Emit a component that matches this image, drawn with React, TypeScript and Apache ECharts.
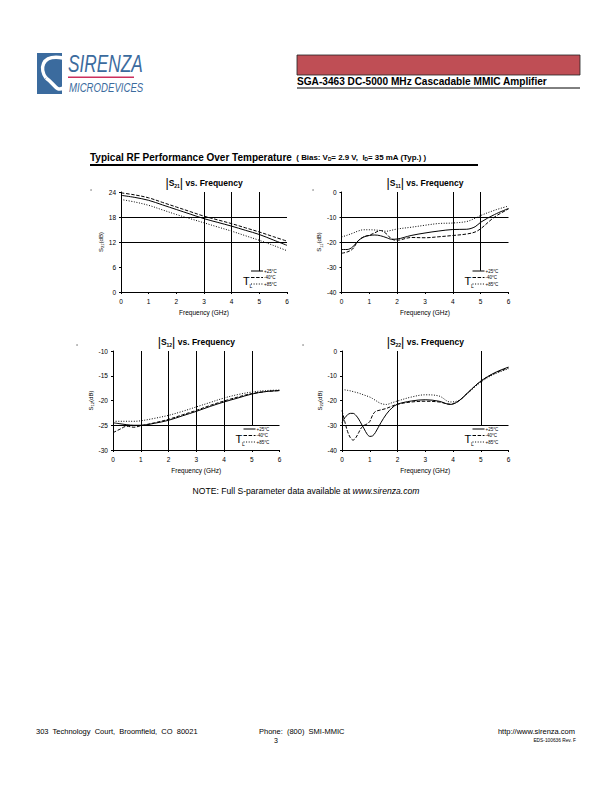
import React, { useEffect, useRef } from "react";
import * as echarts from "echarts";

const FONT = "'Liberation Sans', Arial, Helvetica, sans-serif";

// ---------- data ----------
const s21Freq = [0, 0.5, 1, 1.5, 2, 2.5, 3, 3.5, 4, 4.5, 5, 5.5, 6];
const s21P25 = [23.2, 22.7, 22.0, 20.9, 19.8, 18.7, 17.6, 16.7, 15.8, 14.8, 13.8, 12.5, 11.2];
const s21M40 = [23.8, 23.3, 22.6, 21.5, 20.4, 19.3, 18.2, 17.3, 16.4, 15.4, 14.4, 13.3, 12.2];
const s21P85 = [22.2, 21.6, 20.8, 19.7, 18.6, 17.6, 16.6, 15.6, 14.6, 13.5, 12.4, 11.2, 9.9];

const s11Freq = [0, 0.2, 0.4, 0.6, 0.8, 1, 1.2, 1.4, 1.6, 1.8, 2, 2.5, 3, 3.5, 4, 4.5, 4.8, 5, 5.5, 6];
const s11P25 = [-23, -23, -22, -19.5, -18, -17.4, -17.2, -17.5, -18.2, -18.9, -18.8, -17.4, -16.4, -15.6, -15, -14.9, -13.9, -12.1, -9, -6.6];
const s11M40 = [-24.5, -24, -22.8, -19.5, -17.9, -17.3, -16.3, -15.4, -16.6, -18.8, -19.3, -18.2, -18.3, -17.9, -17.4, -16.8, -16, -14.7, -10, -6.8];
const s11P85 = [-18, -17.3, -16.5, -15.6, -15.1, -15.1, -15.2, -15.4, -15.7, -15.3, -14.8, -14.1, -13.3, -12.6, -12.4, -11.8, -10.5, -9.4, -7.3, -5.6];

const s12Freq = [0, 0.25, 0.5, 0.75, 1, 1.5, 2, 2.5, 3, 3.5, 4, 4.5, 5, 5.5, 6];
const s12P25 = [-24.5, -24.7, -24.9, -25, -25, -24.6, -24, -23.1, -22.2, -21.2, -20.3, -19.5, -18.7, -18.2, -18];
const s12M40 = [-26.5, -25.8, -25.2, -25.4, -25.1, -24.5, -23.8, -22.9, -22, -21, -20.1, -19.3, -18.6, -18.2, -18];
const s12P85 = [-24.2, -24.2, -24.2, -24.2, -24.1, -23.6, -23, -22.2, -21.3, -20.4, -19.5, -18.8, -18.3, -18, -17.9];

const s22Freq = [0, 0.1, 0.2, 0.3, 0.4, 0.5, 0.6, 0.7, 0.8, 0.9, 1, 1.1, 1.2, 1.4, 1.6, 1.8, 2, 2.5, 3, 3.5, 3.9, 4.2, 4.5, 5, 5.5, 6];
const s22P25 = [-29, -27, -25.8, -25.2, -25.2, -26, -27.5, -29.5, -31.5, -33.5, -34.5, -34.3, -33, -29, -25.5, -23, -21.5, -20.2, -19.7, -20.3, -21.6, -20.3, -17.2, -12.2, -8.8, -6.5];
const s22M40 = [-24, -28.5, -32.5, -35, -36, -35, -33, -31, -30, -29.5, -28.5, -26, -24.5, -23.8, -23.2, -22.3, -21.5, -20.6, -20.3, -20.6, -21.5, -20.2, -17.2, -12.2, -9, -6.8];
const s22P85 = [-15.5, -15.7, -15.9, -16.1, -16.4, -16.7, -17, -17.4, -17.8, -18.2, -18.6, -19.2, -19.9, -21.2, -21.6, -20.9, -20.2, -18.6, -17.7, -18.2, -20.6, -20, -17.4, -12.6, -9.3, -7.2];

const legendLabels = ["+25°C", "-40°C", "+85°C"];
const chartTitles = ["21", "11", "12", "22"];
const yRanges = [
  { min: 0, max: 24, interval: 6 },
  { min: -40, max: 0, interval: 10 },
  { min: -30, max: -10, interval: 5 },
  { min: -40, max: 0, interval: 10 },
];
// vertical grid lines: [frequency, value where the line ends (it starts at the top)]
const gridX = [
  [[3, 0], [4, 0], [5, 5]],
  [[2, -40], [4, -40], [5, -31.5]],
  [[1, -30], [2, -30], [3, -30], [4, -30], [5, -25]],
  [[2, -40], [5, -30]],
];
const gridY = [[12, 18], [-10, -20], [-25], [-30]];

// ---------- layout ----------
const layouts = [
  { left: 121, top: 192, width: 166, height: 100 },
  { left: 341.5, top: 192, width: 167, height: 100 },
  { left: 113, top: 351, width: 166.5, height: 99 },
  { left: 342, top: 351, width: 166.5, height: 99 },
];

const BLUE = "#3b6b9e";
const dashTypes: any[] = ["solid", [3.5, 1.6], [1, 1.6]];

function lineSeries(name: string, freq: number[], vals: number[], idx: number, k: number) {
  const s: any = {
    type: "line",
    name,
    xAxisIndex: idx,
    yAxisIndex: idx,
    data: freq.map((f, i) => [f, vals[i]]),
    symbol: "none",
    smooth: 0.35,
    silent: true,
    lineStyle: { color: "#000", width: 1, type: dashTypes[k] },
  };
  if (k === 0) {
    const top = yRanges[idx].max;
    s.markLine = {
      silent: true,
      symbol: ["none", "none"],
      label: { show: false },
      animation: false,
      lineStyle: { color: "#000", width: 1, type: "solid" },
      data: [
        ...gridX[idx].map(([x, end]) => [{ coord: [x, top] }, { coord: [x, end] }]),
        ...gridY[idx].map((v) => ({ yAxis: v })),
      ],
    };
  }
  return s;
}

function legendGraphics(idx: number) {
  const L = layouts[idx];
  const r = L.left + L.width;
  const b = L.top + L.height;
  const els: any[] = [
    { type: "text", x: r - 44, y: b - 11, style: { text: "T", fontSize: 11, fontFamily: FONT, fill: "#000", verticalAlign: "middle" } },
    { type: "text", x: r - 37.5, y: b - 6.5, style: { text: "L", fontSize: 5, fontFamily: FONT, fill: "#000", verticalAlign: "middle" } },
  ];
  const rows = [b - 21, b - 14.5, b - 8];
  rows.forEach((y, k) => {
    els.push({
      type: "line",
      shape: { x1: r - 36, y1: y, x2: r - 24, y2: y },
      style: { stroke: "#000", lineWidth: 1, lineDash: k === 0 ? null : dashTypes[k] },
    });
    els.push({
      type: "text", x: r - 23, y,
      style: { text: legendLabels[k], fontSize: 4.5, fontFamily: FONT, fill: "#000", verticalAlign: "middle" },
    });
  });
  return els;
}

function titleGraphic(idx: number) {
  const L = layouts[idx];
  return {
    type: "text",
    x: L.left + L.width / 2,
    y: L.top - 9,
    style: {
      text: `{bar||}{b|S}{s|${chartTitles[idx]}}{bar||}{b| vs. Frequency}`,
      align: "center",
      verticalAlign: "middle",
      fontFamily: FONT,
      fill: "#000",
      rich: {
        bar: { fontSize: 12.5, fontFamily: FONT, fill: "#000" },
        b: { fontSize: 8.5, fontWeight: "bold", fontFamily: FONT, fill: "#000" },
        s: { fontSize: 5, fontWeight: "bold", fontFamily: FONT, fill: "#000", padding: [5, 0, 0, 0] },
      },
    },
  };
}

export default function App() {
  const ref = useRef<HTMLDivElement>(null);

  useEffect(() => {
    if (!ref.current) return;
    const chart = echarts.init(ref.current, null, { renderer: "svg" });

    const axisTxt = { fontSize: 6.5, fontFamily: FONT, color: "#000" };

    const grids = layouts.map((L) => ({ ...L, containLabel: false, show: false }));
    const xAxes = layouts.map((_, i) => ({
      type: "value",
      gridIndex: i,
      min: 0,
      max: 6,
      interval: 1,
      name: "Frequency (GHz)",
      nameLocation: "middle",
      nameGap: 17,
      nameTextStyle: { fontSize: 6.5, fontFamily: FONT, color: "#000" },
      axisLine: { show: true, onZero: false, lineStyle: { color: "#000", width: 1 } },
      axisTick: { show: true, length: 2, lineStyle: { color: "#000" } },
      axisLabel: { ...axisTxt, margin: 6 },
      splitLine: { show: false },
    }));
    const yAxes = layouts.map((_, i) => ({
      type: "value",
      gridIndex: i,
      min: yRanges[i].min,
      max: yRanges[i].max,
      interval: yRanges[i].interval,
      name: `{n|S}{s|${chartTitles[i]}}{n|(dB)}`,
      nameLocation: "middle",
      nameRotate: 90,
      nameGap: i === 0 ? 15 : 18,
      nameTextStyle: {
        fontFamily: FONT,
        color: "#000",
        rich: {
          n: { fontSize: 6, fontFamily: FONT, color: "#000" },
          s: { fontSize: 4, fontFamily: FONT, color: "#000", padding: [4, 0, 0, 0] },
        },
      },
      axisLine: { show: true, onZero: false, lineStyle: { color: "#000", width: 1 } },
      axisTick: { show: true, length: 2, lineStyle: { color: "#000" } },
      axisLabel: { ...axisTxt, margin: 5 },
      splitLine: { show: false },
    }));

    const series = [
      lineSeries("+25°C", s21Freq, s21P25, 0, 0),
      lineSeries("-40°C", s21Freq, s21M40, 0, 1),
      lineSeries("+85°C", s21Freq, s21P85, 0, 2),
      lineSeries("+25°C", s11Freq, s11P25, 1, 0),
      lineSeries("-40°C", s11Freq, s11M40, 1, 1),
      lineSeries("+85°C", s11Freq, s11P85, 1, 2),
      lineSeries("+25°C", s12Freq, s12P25, 2, 0),
      lineSeries("-40°C", s12Freq, s12M40, 2, 1),
      lineSeries("+85°C", s12Freq, s12P85, 2, 2),
      lineSeries("+25°C", s22Freq, s22P25, 3, 0),
      lineSeries("-40°C", s22Freq, s22M40, 3, 1),
      lineSeries("+85°C", s22Freq, s22P85, 3, 2),
    ];

    const graphics: any[] = [
      // logo
      { type: "rect", shape: { x: 37, y: 53, width: 25, height: 41 }, style: { fill: BLUE } },
      {
        type: "bezierCurve",
        shape: { x1: 63, y1: 58, x2: 46, y2: 78, cpx1: 40, cpy1: 54, cpx2: 40, cpy2: 70 },
        style: { stroke: "#fff", lineWidth: 3.5, fill: null },
      },
      {
        type: "bezierCurve",
        shape: { x1: 46, y1: 78, x2: 63, y2: 88, cpx1: 55, cpy1: 84, cpx2: 56, cpy2: 92 },
        style: { stroke: "#fff", lineWidth: 3.5, fill: null },
      },
      {
        type: "text", x: 68, y: 63, scaleX: 0.72,
        style: { text: "SIRENZA", fontSize: 24, fontStyle: "italic", fontFamily: FONT, fill: BLUE, verticalAlign: "middle" },
      },
      { type: "rect", shape: { x: 68, y: 76.5, width: 66, height: 1.5 }, style: { fill: "#cc2f5c" } },
      {
        type: "text", x: 69, y: 87.5, scaleX: 0.77,
        style: { text: "MICRODEVICES", fontSize: 12.5, fontStyle: "italic", fontFamily: FONT, fill: BLUE, verticalAlign: "middle" },
      },
      // header bar
      { type: "rect", shape: { x: 297, y: 55, width: 283, height: 20 }, style: { fill: "#bf4e55", stroke: "#222", lineWidth: 0.8 } },
      {
        type: "text", x: 297, y: 80.5, scaleX: 0.88,
        style: { text: "SGA-3463 DC-5000 MHz Cascadable MMIC Amplifier", fontSize: 11.5, fontWeight: "bold", fontFamily: FONT, fill: "#000", verticalAlign: "middle" },
      },
      { type: "line", shape: { x1: 297, y1: 88, x2: 580, y2: 88 }, style: { stroke: "#000", lineWidth: 1 } },
      // section title
      {
        type: "text", x: 90, y: 157,
        style: {
          text: "{a|Typical RF Performance Over Temperature}{b|  ( Bias: V}{s|D}{b|= 2.9 V,  I}{s|D}{b|= 35 mA (Typ.) )}",
          verticalAlign: "middle",
          fontFamily: FONT,
          rich: {
            a: { fontSize: 10, fontWeight: "bold", fontFamily: FONT, fill: "#000" },
            b: { fontSize: 7.9, fontWeight: "bold", fontFamily: FONT, fill: "#000" },
            s: { fontSize: 4.8, fontWeight: "bold", fontFamily: FONT, fill: "#000", padding: [4, 0, 0, 0] },
          },
        },
      },
      { type: "rect", shape: { x: 90, y: 164, width: 388, height: 2 }, style: { fill: "#000" } },
      // small marks
      { type: "circle", shape: { cx: 91, cy: 190, r: 0.6 }, style: { fill: "#444" } },
      { type: "circle", shape: { cx: 313, cy: 190, r: 0.6 }, style: { fill: "#444" } },
      { type: "circle", shape: { cx: 77, cy: 345, r: 0.6 }, style: { fill: "#444" } },
      { type: "circle", shape: { cx: 303, cy: 345, r: 0.6 }, style: { fill: "#444" } },
      // titles
      ...layouts.map((_, i) => titleGraphic(i)),
      // legends
      ...legendGraphics(0),
      ...legendGraphics(1),
      ...legendGraphics(2),
      ...legendGraphics(3),
      // note
      {
        type: "text", x: 306, y: 491,
        style: {
          text: "{n|NOTE: Full S-parameter data available at }{i|www.sirenza.com}",
          align: "center", verticalAlign: "middle", fontFamily: FONT,
          rich: {
            n: { fontSize: 8.6, fontFamily: FONT, fill: "#000" },
            i: { fontSize: 8.6, fontStyle: "italic", fontFamily: FONT, fill: "#000" },
          },
        },
      },
      // footer
      {
        type: "text", x: 36, y: 731,
        style: { text: "303  Technology  Court,  Broomfield,  CO  80021", fontSize: 7.5, fontFamily: FONT, fill: "#000", verticalAlign: "middle" },
      },
      {
        type: "text", x: 259, y: 731,
        style: { text: "Phone:  (800)  SMI-MMIC", fontSize: 7.5, fontFamily: FONT, fill: "#000", verticalAlign: "middle" },
      },
      {
        type: "text", x: 276, y: 740.5,
        style: { text: "3", fontSize: 7, fontFamily: FONT, fill: "#000", align: "center", verticalAlign: "middle" },
      },
      {
        type: "text", x: 575, y: 731,
        style: { text: "http://www.sirenza.com", fontSize: 7.5, fontFamily: FONT, fill: "#000", align: "right", verticalAlign: "middle" },
      },
      {
        type: "text", x: 576, y: 740.5,
        style: { text: "EDS-100636 Rev. F", fontSize: 4.8, fontFamily: FONT, fill: "#000", align: "right", verticalAlign: "middle" },
      },
    ];

    chart.setOption({
      animation: false,
      backgroundColor: "#fff",
      grid: grids,
      xAxis: xAxes,
      yAxis: yAxes,
      series,
      graphic: graphics,
    });

    return () => chart.dispose();
  }, []);

  return (
    <div
      ref={ref}
      style={{ position: "absolute", left: 0, top: 0, width: 612, height: 792, background: "#fff" }}
    />
  );
}
